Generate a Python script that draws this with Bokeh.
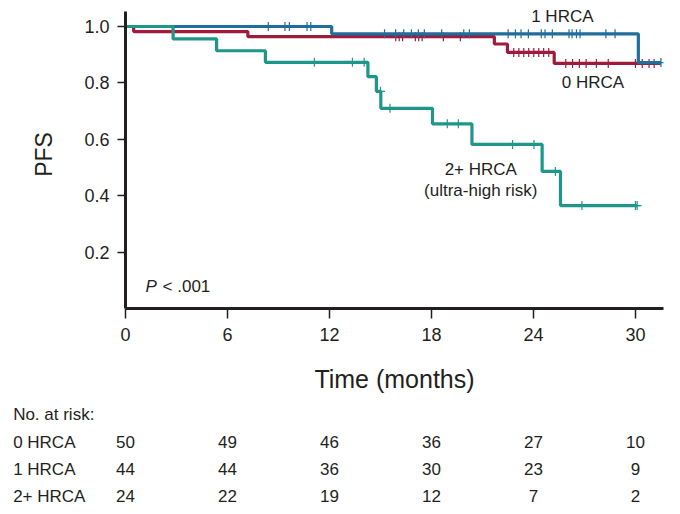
import numpy as np
from bokeh.plotting import figure
from bokeh.models import Range1d, FixedTicker, PrintfTickFormatter
from bokeh.embed import file_html
from bokeh.resources import INLINE
from bokeh.core.properties import value

# ---------------- data ----------------
time_ticks = [0, 6, 12, 18, 24, 30]
surv_ticks = [0.2, 0.4, 0.6, 0.8, 1.0]
groups = ["0 HRCA", "1 HRCA", "2+ HRCA"]

hrca0_times = [0, 0.48, 7.2, 21.7, 22.47, 25.22, 31.5]
hrca0_surv = [1.0, 0.982, 0.964, 0.938, 0.908, 0.869, 0.869]
hrca0_cens = [15.9, 16.1, 16.3, 17.05, 17.25, 17.45, 18.7, 19.7,
              22.84, 23.14, 23.43, 23.72, 24.02, 24.31, 24.6, 24.9,
              25.9, 26.3, 26.7, 27.1, 27.7, 28.4, 30.0, 30.4, 30.8, 31.1]

hrca1_times = [0, 12.13, 30.17, 31.5]
hrca1_surv = [1.0, 0.974, 0.872, 0.872]
hrca1_cens = [8.4, 9.38, 9.64, 10.68, 10.9, 15.24, 15.89, 16.37, 16.82, 17.23,
              17.58, 18.6, 19.9, 20.23, 22.51, 22.94, 23.27, 23.7, 24.46, 24.68,
              25.11, 26.09, 26.27, 26.53, 26.74, 28.26, 28.8, 31.5]

hrca2_times = [0, 2.8, 5.36, 8.23, 14.26, 14.76, 15.02, 18.06, 20.38, 24.51, 25.59, 30.1]
hrca2_surv = [1.0, 0.956, 0.914, 0.873, 0.822, 0.770, 0.71, 0.655, 0.582, 0.486, 0.365, 0.365]
hrca2_cens = [11.11, 13.35, 14.04, 15.0, 15.56, 18.93, 19.58, 22.77, 24.03, 25.29, 26.85, 30.0, 30.1]

risk_0 = [50, 49, 46, 36, 27, 10]
risk_1 = [44, 44, 36, 30, 23, 9]
risk_2 = [24, 22, 19, 12, 7, 2]

# ---------------- style ----------------
FONT = "Liberation Sans"
INK = "#231f20"
C0 = "#9e1b3c"
C1 = "#1f6e9c"
C2 = "#1e968a"


def surv_at(ts, times, surv):
    idx = np.searchsorted(np.array(times), np.array(ts), side="right") - 1
    return [surv[i] for i in idx]


p = figure(width=672, height=400, x_range=Range1d(0, 31.65), y_range=Range1d(0, 1.0922),
           output_backend="svg", toolbar_location=None,
           min_border_left=125, min_border_right=9, min_border_top=0, min_border_bottom=92)
p.title.visible = False
p.outline_line_color = None
p.grid.visible = False
p.background_fill_color = "white"
p.border_fill_color = "white"

for ax in (p.xaxis[0], p.yaxis[0]):
    ax.axis_line_width = 3
    ax.axis_line_color = INK
    ax.major_tick_line_color = INK
    ax.major_tick_line_width = 1.5
    ax.major_tick_in = 0
    ax.minor_tick_line_color = None
    ax.major_label_text_font = FONT
    ax.major_label_text_font_size = "18px"
    ax.major_label_text_color = INK
    ax.axis_label_text_font = FONT
    ax.axis_label_text_font_style = "normal"
    ax.axis_label_text_color = INK

p.xaxis.ticker = FixedTicker(ticks=time_ticks)
p.xaxis.major_tick_out = 10
p.xaxis.major_label_standoff = 9
p.xaxis.axis_label = "Time (months)"
p.xaxis.axis_label_text_font_size = "25px"
p.xaxis.axis_label_standoff = 21

p.yaxis.ticker = FixedTicker(ticks=surv_ticks)
p.yaxis.bounds = (0, 1.053)
p.yaxis.formatter = PrintfTickFormatter(format="%.1f")
p.yaxis.major_tick_out = 8
p.yaxis.major_label_standoff = 8
p.yaxis.axis_label = "PFS"
p.yaxis.axis_label_text_font_size = "23px"
p.yaxis.axis_label_standoff = 24

series = [
    (hrca0_times, hrca0_surv, hrca0_cens, C0),
    (hrca1_times, hrca1_surv, hrca1_cens, C1),
    (hrca2_times, hrca2_surv, hrca2_cens, C2),
]
for times, surv, cens, col in series:
    p.step(x=times, y=surv, mode="after", line_color=col, line_width=3.2)
    p.scatter(x=cens, y=surv_at(cens, times, surv), marker="cross", size=9,
              line_color=col, line_width=1.2)

txt = dict(text_font=value(FONT), text_font_size="17px", text_color=INK,
           text_baseline="alphabetic")
p.text(x=[25.7], y=[1.037], text=["1 HRCA"], text_align="center", **txt)
p.text(x=[27.5], y=[0.800], text=["0 HRCA"], text_align="center", **txt)
p.text(x=[20.9], y=[0.492], text=["2+ HRCA"], text_align="center", **txt)
p.text(x=[20.9], y=[0.417], text=["(ultra-high risk)"], text_align="center", **txt)
p.text(x=[1.18], y=[0.077], text=["P"], text_align="left", text_font_style="italic", **txt)
p.text(x=[2.18], y=[0.077], text=["< .001"], text_align="left", **txt)

# ---------------- risk table (own figure, same month scale: 17 px / month, 0 at 125 px) ----------------
tb = figure(width=672, height=106, x_range=Range1d(-125 / 17, 547 / 17), y_range=Range1d(106, 0),
            output_backend="svg", toolbar_location=None, x_axis_type=None, y_axis_type=None,
            min_border=0)
tb.title.visible = False
tb.outline_line_color = None
tb.grid.visible = False

label_x = -6.61
tb.text(x=[label_x], y=[14], text=["No. at risk:"], text_align="left", **txt)
row_y = [41.5, 68.5, 95.5]
for g, yy, counts in zip(groups, row_y, [risk_0, risk_1, risk_2]):
    tb.text(x=[label_x], y=[yy], text=[g], text_align="left", **txt)
    tb.text(x=time_ticks, y=[yy] * len(time_ticks), text=[str(c) for c in counts],
            text_align="center", **txt)

open("out.html", "w").write(file_html([p, tb], INLINE))
